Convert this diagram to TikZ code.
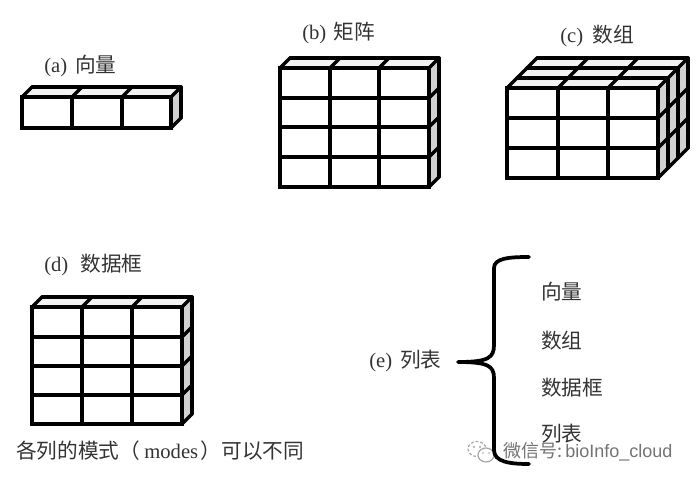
\documentclass[tikz,border=0pt]{standalone}
\usepackage{fontspec}
\setmainfont{Liberation Serif}
\newfontfamily\cjk{Noto Sans CJK SC}
\newfontfamily\marksans{Liberation Sans}
\definecolor{inkgray}{gray}{0.2}
\definecolor{sideface}{gray}{0.82}
\definecolor{topface}{gray}{0.95}
\definecolor{markgray}{gray}{0.45}
\definecolor{badgegray}{gray}{0.65}
% Block of cells: #1 = x of the four column lines, #2 = y of the top and
% bottom edges, #3 = number of layers going back, each offset by 10 units.
\newcommand{\cellblock}[3]{%
  \def\layers{#3}%
  \foreach \xa/\xb/\xc/\xd in {#1}{%
    \foreach \yt/\yb in {#2}{%
      \pgfmathsetmacro{\dep}{10*\layers}%
      \fill[topface] (\xa,\yt) -- (\xa+\dep,\yt-\dep) -- (\xd+\dep,\yt-\dep) -- (\xd,\yt) -- cycle;
      \fill[sideface] (\xd,\yt) -- (\xd+\dep,\yt-\dep) -- (\xd+\dep,\yb-\dep) -- (\xd,\yb) -- cycle;
      \foreach \k in {1,...,\layers}{%
        \draw[cell line] (\xa+10*\k,\yt-10*\k) -- (\xd+10*\k,\yt-10*\k);
        \draw[cell line] (\xd+10*\k,\yt-10*\k) -- (\xd+10*\k,\yb-10*\k);
      }
      \foreach \xx in {\xa,\xb,\xc,\xd}{%
        \draw[cell line] (\xx,\yt) -- (\xx+\dep,\yt-\dep);
        \draw[cell line] (\xx,\yt) -- (\xx,\yb);
      }
      \draw[cell line] (\xd,\yb) -- (\xd+\dep,\yb-\dep);
      \draw[outer cell] (\xa,\yt) rectangle (\xd,\yb);
    }
  }%
}
% One horizontal row line across the front
\newcommand{\rowline}[3]{%
  \draw[cell line] (#1,#3) -- (#2,#3);
}
\tikzset{
  cell line/.style={line width=2.4pt,line cap=round,line join=round,black},
  outer cell/.style={line width=2.9pt,line join=miter,black},
  label text/.style={anchor=west,inner sep=0pt,text=inkgray,font=\fontsize{15.5pt}{18pt}\selectfont},
  brace line/.style={line width=2.8pt,line cap=round,line join=round,black},
  mark text/.style={anchor=west,inner sep=0pt,text=markgray,font=\fontsize{13.5pt}{16pt}\selectfont}
}
\begin{document}
\begin{tikzpicture}[x=0.75pt,y=-0.75pt]
\useasboundingbox (0,0) rectangle (696,484);

% (a) vector
\cellblock{22/72/122/171}{97/128}{1}

% (b) matrix
\cellblock{280/330/379/429}{68/187}{1}
\foreach \ry in {98,127,157}{
  \rowline{280}{429}{\ry}
  \draw[cell line] (429,\ry) -- (439,\ry-10);
}

% (c) array
\cellblock{507/558/608/658}{88/178}{3}
\foreach \ry in {118,148}{
  \rowline{507}{658}{\ry}
  \draw[cell line] (658,\ry) -- (688,\ry-30);
}

% (d) data frame
\cellblock{32/82/132/182}{307/424}{1}
\foreach \ry in {337,366,395}{
  \rowline{32}{182}{\ry}
  \draw[cell line] (182,\ry) -- (192,\ry-10);
}

% Captions
\node[label text] (la) at (44,66) {(a)\hspace{6pt}{\cjk 向量}};
\node[label text] (lb) at (302,33) {(b)\hspace{5.5pt}{\cjk 矩阵}};
\node[label text] (lc) at (560,36) {(c)\hspace{7pt}{\cjk 数组}};
\node[label text] (ld) at (44,265) {(d)\hspace{9pt}{\cjk 数据框}};
\node[label text] (cap) at (16,451) {{\cjk 各列的模式（}\hspace{3pt}modes\hspace{2pt}{\cjk ）可以不同}};
\node[label text] (le) at (369,361) {(e)\hspace{6pt}{\cjk 列表}};

% List members
\node[label text] (m1) at (541,292) {\cjk 向量};
\node[label text] (m2) at (541,341) {\cjk 数组};
\node[label text] (m3) at (541,388) {\cjk 数据框};
\node[label text] (m4) at (541,434) {\cjk 列表};

% Chat badge
\draw[badgegray,line width=0.9pt,dash pattern=on 2pt off 1.5pt,fill=white] (477,449) ellipse (9 and 7.5);
\draw[badgegray,line width=0.9pt,fill=white] (486,455) ellipse (8 and 7);
\fill[badgegray] (474,447) circle (1.1) (480,447) circle (1.1) (483,453) circle (0.9) (489,453) circle (0.9);

% Curly brace
\coordinate (bt) at (529,257);
\coordinate (bb) at (529,464);
\coordinate (btip) at (458,362);
\draw[brace line] (bt) .. controls (510,257) and (494,258) .. (494,268)
  -- (494,345) .. controls (494,358) and (488,362) .. (btip)
  .. controls (488,362) and (494,366) .. (494,378)
  -- (494,450) .. controls (494,462) and (510,464) .. (bb);

\node[mark text] (wm) at (503,452) {{\cjk 微信号:}\,{\marksans bioInfo\_cloud}};
\end{tikzpicture}
\end{document}
